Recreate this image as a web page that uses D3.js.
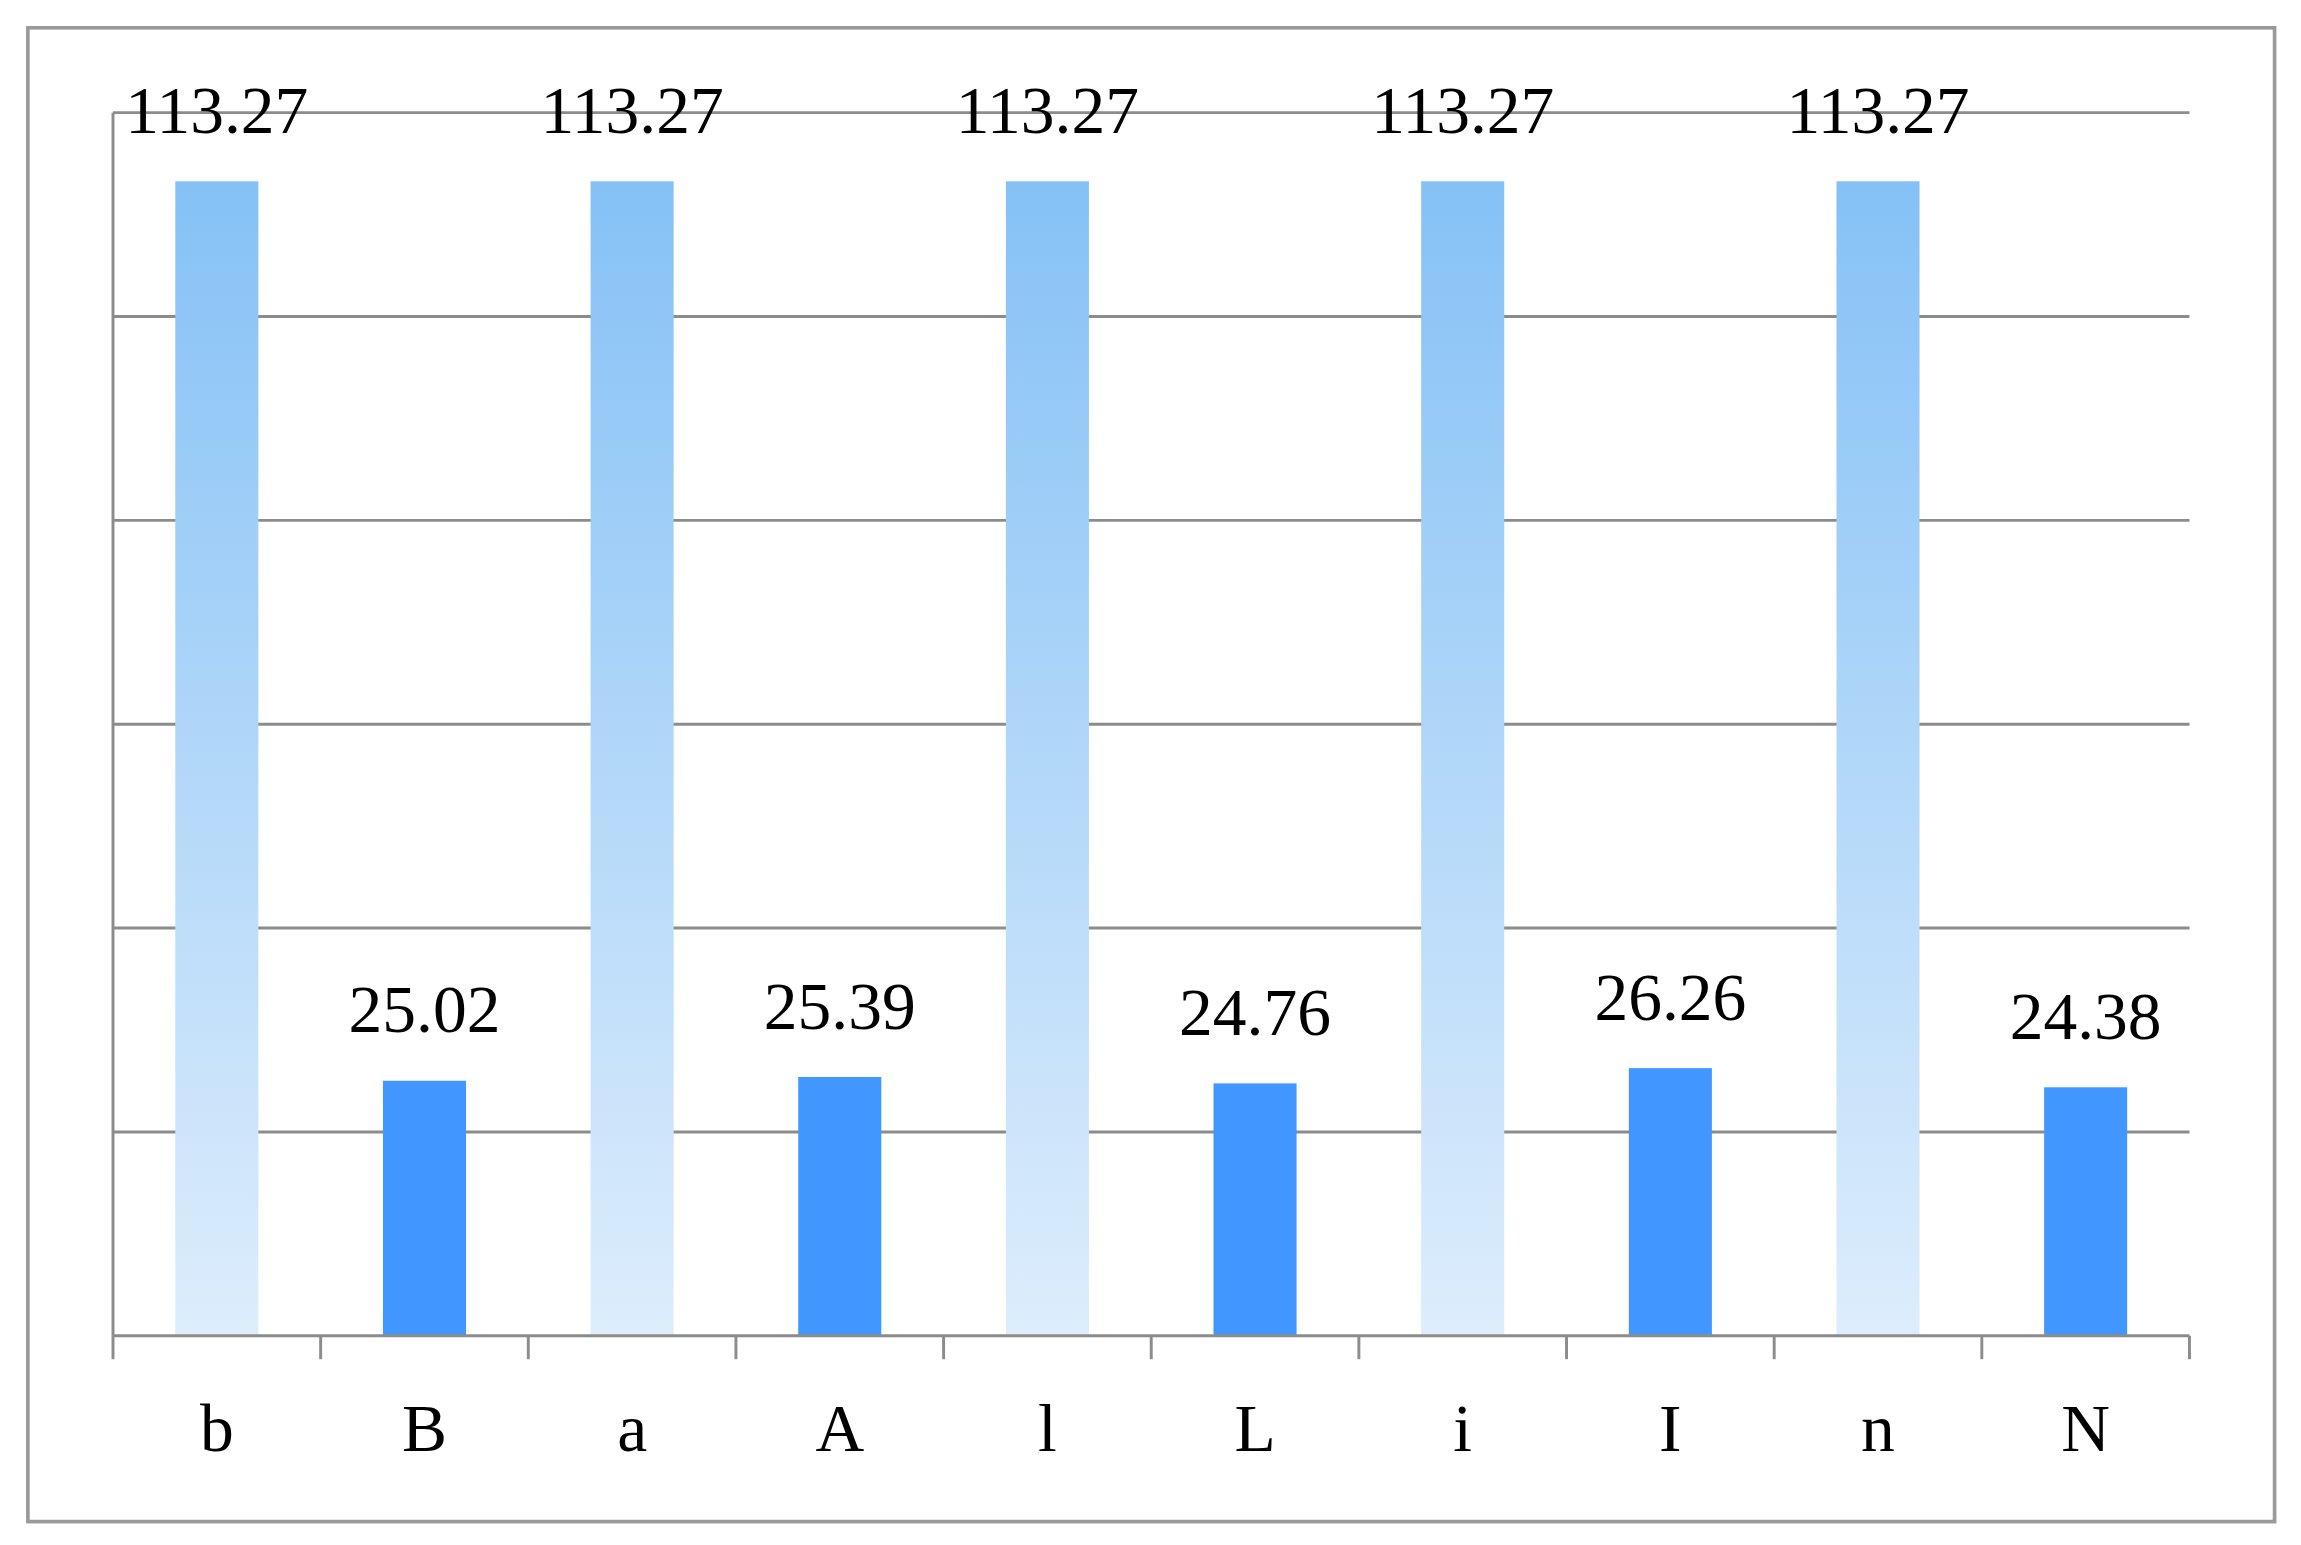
<!DOCTYPE html>
<html><head><meta charset="utf-8">
<script src="https://cdn.jsdelivr.net/npm/d3@7"></script>
<style>body{margin:0;background:#fff}</style>
</head><body>
<svg id="chart"></svg>
<script>
const categories = ["b", "B", "a", "A", "l", "L", "i", "I", "n", "N"];
const values = [113.27, 25.02, 113.27, 25.39, 113.27, 24.76, 113.27, 26.26, 113.27, 24.38];
const yTicks = [0, 20, 40, 60, 80, 100, 120];

const W = 1568, H = 1056;
const svg = d3.select("#chart")
  .attr("width", 2301).attr("height", 1545)
  .attr("viewBox", `0 0 ${W} ${H}`)
  .attr("preserveAspectRatio", "none");

svg.append("rect").attr("x", 19).attr("y", 19).attr("width", 1531).attr("height", 1021)
  .attr("fill", "#fff").attr("stroke", "#9a9a9a").attr("stroke-width", 2.5);

const defs = svg.append("defs");
const grad = defs.append("linearGradient").attr("id", "tall")
  .attr("x1", 0).attr("y1", 0).attr("x2", 0).attr("y2", 1);
grad.append("stop").attr("offset", "0%").attr("stop-color", "#85c1f6");
grad.append("stop").attr("offset", "100%").attr("stop-color", "#ddedfc");

const plotL = 77, plotR = 1492, plotT = 77, plotB = 913;
const x = d3.scaleBand().domain(categories).range([plotL, plotR]).paddingInner(0.6).paddingOuter(0.3);
const y = d3.scaleLinear().domain([0, 120]).range([plotB, plotT]);

// gridlines
svg.append("g").selectAll("line").data(yTicks.slice(1)).join("line")
  .attr("x1", plotL).attr("x2", plotR)
  .attr("y1", d => y(d)).attr("y2", d => y(d))
  .attr("stroke", "#8c8c8c").attr("stroke-width", 2);

// y axis line
svg.append("line").attr("x1", plotL).attr("x2", plotL).attr("y1", plotT).attr("y2", plotB)
  .attr("stroke", "#8c8c8c").attr("stroke-width", 2);

// bars
svg.append("g").selectAll("rect").data(values).join("rect")
  .attr("x", (d, i) => x(categories[i]))
  .attr("width", x.bandwidth())
  .attr("y", d => y(d))
  .attr("height", d => y(0) - y(d))
  .attr("fill", (d, i) => i % 2 === 0 ? "url(#tall)" : "#4197ff");

// value labels
svg.append("g").selectAll("text").data(values).join("text")
  .attr("x", (d, i) => x(categories[i]) + x.bandwidth() / 2)
  .attr("y", d => y(d) - 33)
  .attr("text-anchor", "middle")
  .attr("font-family", "Liberation Serif, Times New Roman, serif")
  .attr("font-size", 46)
  .attr("fill", "#000")
  .text(d => d.toFixed(2));

// x axis
const step = (plotR - plotL) / categories.length;
const xAxis = svg.append("g");
xAxis.append("line").attr("x1", plotL).attr("x2", plotR).attr("y1", plotB).attr("y2", plotB)
  .attr("stroke", "#8c8c8c").attr("stroke-width", 2);
xAxis.selectAll("line.tick").data(d3.range(categories.length + 1)).join("line")
  .attr("class", "tick")
  .attr("x1", i => plotL + i * step).attr("x2", i => plotL + i * step)
  .attr("y1", plotB).attr("y2", plotB + 16)
  .attr("stroke", "#8c8c8c").attr("stroke-width", 2);
xAxis.selectAll("text").data(categories).join("text")
  .attr("x", d => x(d) + x.bandwidth() / 2)
  .attr("y", 992)
  .attr("text-anchor", "middle")
  .attr("font-family", "Liberation Serif, Times New Roman, serif")
  .attr("font-size", 46)
  .attr("fill", "#000")
  .text(d => d);
</script>
</body></html>
